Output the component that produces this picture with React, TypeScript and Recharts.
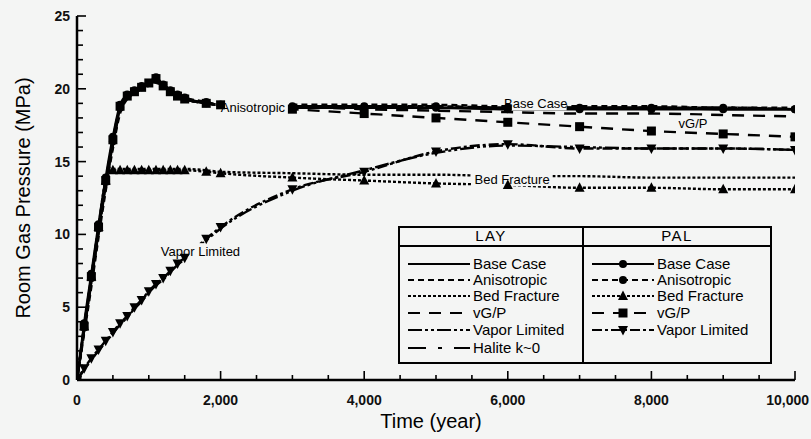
import { LineChart, Line, XAxis, YAxis, ReferenceDot, Legend } from "recharts"

const BG = "#f4f5f4"
const FONT = "'Liberation Sans', Arial, sans-serif"

// time grid (year)
const years = [0, 100, 200, 300, 400, 500, 600, 700, 800, 900, 1000, 1100, 1200, 1300, 1400, 1500, 1800, 2000, 3000, 4000, 5000, 6000, 7000, 8000, 9000, 10000]

// room gas pressure (MPa) — LAY
const layBase = [0, 3.5, 6.8, 10.2, 13.4, 16.2, 18.6, 19.5, 19.8, 20.1, 20.3, 20.6, 20.3, 19.9, 19.6, 19.4, 19.0, 18.9, 18.8, 18.8, 18.7, 18.7, 18.7, 18.7, 18.6, 18.6]
const layAniso = [0, 3.2, 6.4, 9.8, 13.0, 15.9, 18.3, 19.3, 19.7, 20.0, 20.2, 20.4, 20.2, 19.8, 19.5, 19.3, 19.0, 18.9, 18.9, 18.9, 18.9, 18.8, 18.8, 18.8, 18.7, 18.7]
const layBed = [0, 3.5, 6.8, 10.2, 13.4, 14.5, 14.5, 14.5, 14.5, 14.5, 14.5, 14.5, 14.5, 14.5, 14.5, 14.5, 14.4, 14.3, 14.2, 14.1, 14.1, 14.0, 14.0, 13.9, 13.9, 13.9]
const layVgp = [0, 3.4, 6.7, 10.1, 13.3, 16.1, 18.5, 19.4, 19.7, 20.0, 20.3, 20.5, 20.2, 19.8, 19.5, 19.3, 19.0, 18.9, 18.8, 18.6, 18.5, 18.4, 18.3, 18.3, 18.2, 18.1]
const layVapor = [0, 0.7, 1.4, 2.0, 2.6, 3.2, 3.8, 4.3, 4.9, 5.4, 6.0, 6.5, 6.9, 7.4, 7.9, 8.3, 9.6, 10.4, 13.0, 14.4, 15.6, 16.1, 16.0, 15.9, 15.9, 15.8]
const layHalite = [0, 3.5, 6.8, 10.2, 13.4, 16.2, 18.6, 19.5, 19.8, 20.1, 20.3, 20.6, 20.3, 19.9, 19.6, 19.4, 19.0, 18.9, 18.8, 18.8, 18.8, 18.7, 18.7, 18.7, 18.7, 18.6]

// room gas pressure (MPa) — PAL
const palBase = [0, 3.9, 7.3, 10.7, 13.9, 16.7, 18.9, 19.6, 19.9, 20.2, 20.4, 20.8, 20.2, 19.8, 19.5, 19.3, 19.0, 18.9, 18.7, 18.7, 18.7, 18.6, 18.6, 18.6, 18.6, 18.6]
const palAniso = [0, 3.6, 7.0, 10.4, 13.6, 16.4, 18.7, 19.5, 19.8, 20.1, 20.4, 20.6, 20.3, 19.9, 19.6, 19.4, 19.1, 18.9, 18.8, 18.8, 18.8, 18.7, 18.7, 18.7, 18.7, 18.6]
const palBed = [0, 3.7, 7.1, 10.5, 13.7, 14.4, 14.4, 14.4, 14.4, 14.4, 14.4, 14.4, 14.4, 14.4, 14.4, 14.4, 14.3, 14.2, 13.9, 13.7, 13.5, 13.4, 13.2, 13.2, 13.1, 13.1]
const palVgp = [0, 3.7, 7.1, 10.5, 13.7, 16.5, 18.8, 19.5, 19.8, 20.1, 20.4, 20.7, 20.2, 19.8, 19.5, 19.3, 19.0, 18.9, 18.6, 18.3, 18.0, 17.7, 17.4, 17.1, 16.9, 16.7]
const palVapor = [0, 0.8, 1.5, 2.1, 2.7, 3.3, 3.9, 4.4, 5.0, 5.5, 6.1, 6.6, 7.0, 7.5, 8.0, 8.4, 9.7, 10.5, 13.1, 14.3, 15.7, 16.2, 15.9, 15.9, 15.9, 15.8]

// axis ticks
const xTicks = [0, 500, 1000, 1500, 2000, 2500, 3000, 3500, 4000, 4500, 5000, 5500, 6000, 6500, 7000, 7500, 8000, 8500, 9000, 9500, 10000]
const xLabels = [0, 2000, 4000, 6000, 8000, 10000]
const yTicks = [0, 1, 2, 3, 4, 5, 6, 7, 8, 9, 10, 11, 12, 13, 14, 15, 16, 17, 18, 19, 20, 21, 22, 23, 24, 25]
const yLabels = [0, 5, 10, 15, 20, 25]

// in-plot curve labels
const tags = [
  { text: "Anisotropic", t: 2450, p: 18.75 },
  { text: "Base Case", t: 6390, p: 19.0 },
  { text: "vG/P", t: 8580, p: 17.6 },
  { text: "Bed Fracture", t: 6060, p: 13.8 },
  { text: "Vapor Limited", t: 1720, p: 8.85 },
]

const toPoints = (vals: number[]) => years.map((t, i) => ({ t, p: vals[i] }))

type Kind = "circle" | "tri" | "square" | "itri" | null

const laySeries = [
  { name: "Base Case", vals: layBase, dash: undefined, marker: null as Kind },
  { name: "Anisotropic", vals: layAniso, dash: "6 4", marker: null as Kind },
  { name: "Bed Fracture", vals: layBed, dash: "3 2", marker: null as Kind },
  { name: "vG/P", vals: layVgp, dash: "12 9", marker: null as Kind },
  { name: "Vapor Limited", vals: layVapor, dash: "14 3 3 3 3 3", marker: null as Kind },
  { name: "Halite k~0", vals: layHalite, dash: "18 12 4 12", marker: null as Kind },
]

const palSeries = [
  { name: "Base Case", vals: palBase, dash: undefined, marker: "circle" as Kind },
  { name: "Anisotropic", vals: palAniso, dash: "6 4", marker: "circle" as Kind },
  { name: "Bed Fracture", vals: palBed, dash: "3 2", marker: "tri" as Kind },
  { name: "vG/P", vals: palVgp, dash: "12 9", marker: "square" as Kind },
  { name: "Vapor Limited", vals: palVapor, dash: "10 3 3 3", marker: "itri" as Kind },
]

function Marker({ kind, cx, cy }: { kind: Kind; cx: number; cy: number }) {
  if (cx == null || cy == null || isNaN(cx) || isNaN(cy)) return null
  if (kind === "circle") return <circle cx={cx} cy={cy} r={4} fill="#000" />
  if (kind === "tri")
    return <polygon points={`${cx},${cy - 5.5} ${cx - 5},${cy + 4} ${cx + 5},${cy + 4}`} fill="#000" />
  if (kind === "square") return <rect x={cx - 4.5} y={cy - 4.5} width={9} height={9} fill="#000" />
  if (kind === "itri")
    return <polygon points={`${cx},${cy + 5.5} ${cx - 5},${cy - 4} ${cx + 5},${cy - 4}`} fill="#000" />
  return null
}

const fmt = (v: number) => v.toLocaleString("en-US")

function BottomTick(props: any) {
  const { x, y, payload } = props
  const major = xLabels.includes(payload.value)
  const last = payload.value === xLabels[xLabels.length - 1]
  return (
    <g>
      <line x1={x} x2={x} y1={y} y2={y - (major ? 9 : 5)} stroke="#000" strokeWidth={1.6} />
      {major && (
        <text
          x={last ? x + 14 : x}
          y={y + 25}
          textAnchor={last ? "end" : "middle"}
          fontFamily={FONT}
          fontWeight="bold"
          fontSize={14}
          fill="#111"
        >
          {fmt(payload.value)}
        </text>
      )}
    </g>
  )
}

function TopTick(props: any) {
  const { x, y, payload } = props
  const major = xLabels.includes(payload.value)
  return <line x1={x} x2={x} y1={y} y2={y + (major ? 9 : 6)} stroke="#000" strokeWidth={1.6} />
}

function LeftTick(props: any) {
  const { x, y, payload } = props
  const major = yLabels.includes(payload.value)
  return (
    <g>
      <line x1={x} x2={x + (major ? 9 : 6)} y1={y} y2={y} stroke="#000" strokeWidth={1.6} />
      {major && (
        <text x={x - 7} y={y + 5} textAnchor="end" fontFamily={FONT} fontWeight="bold" fontSize={14} fill="#111">
          {payload.value}
        </text>
      )}
    </g>
  )
}

function RightTick(props: any) {
  const { x, y, payload } = props
  const major = yLabels.includes(payload.value)
  return <line x1={x} x2={x - (major ? 9 : 6)} y1={y} y2={y} stroke="#000" strokeWidth={1.6} />
}

function Tag({ cx, cy, text }: { cx: number; cy: number; text: string }) {
  const w = text.length * 6.4 + 4
  return (
    <g>
      <rect x={cx - w / 2} y={cy - 8} width={w} height={15} fill={BG} />
      <text x={cx} y={cy + 4.5} textAnchor="middle" fontFamily={FONT} fontSize={13} fill="#000">
        {text}
      </text>
    </g>
  )
}

function Sample({ dash, marker }: { dash?: string; marker: Kind }) {
  return (
    <svg width={62} height={12} style={{ position: "absolute", left: 0, top: 2 }}>
      <line x1={0} x2={62} y1={6} y2={6} stroke="#000" strokeWidth={2} strokeDasharray={dash} />
      {marker && <Marker kind={marker} cx={31} cy={6} />}
    </svg>
  )
}

const rowTops = [28, 44, 60, 77, 94, 112]

function LegendBox() {
  const cols = [
    { title: "LAY", left: 0, width: 182, list: laySeries },
    { title: "PAL", left: 184, width: 186, list: palSeries },
  ]
  return (
    <div
      style={{
        position: "relative",
        width: 374,
        height: 138,
        border: "2px solid #000",
        boxSizing: "border-box",
        background: BG,
        fontFamily: FONT,
        color: "#000",
      }}
    >
      <div style={{ position: "absolute", left: 182, top: 0, bottom: 0, borderLeft: "2px solid #000" }} />
      <div style={{ position: "absolute", left: 0, right: 0, top: 17, borderTop: "2px solid #000" }} />
      {cols.map((c) => (
        <div key={c.title}>
          <div
            style={{
              position: "absolute",
              left: c.left,
              width: c.width,
              top: -1,
              textAlign: "center",
              fontSize: 15,
              letterSpacing: 1.5,
              lineHeight: "18px",
            }}
          >
            {c.title}
          </div>
          {c.list.map((s, i) => (
            <div key={s.name} style={{ position: "absolute", left: c.left + 8, top: rowTops[i], height: 16, width: 180 }}>
              <Sample dash={s.dash} marker={s.marker} />
              <span style={{ position: "absolute", left: 65, top: -1, fontSize: 15, lineHeight: "17px", whiteSpace: "nowrap" }}>
                {s.name}
              </span>
            </div>
          ))}
        </div>
      ))}
    </div>
  )
}

export default function App() {
  return (
    <div style={{ position: "absolute", left: 0, top: 0, width: 811, height: 439, background: BG }}>
      <LineChart width={811} height={439} margin={{ top: 16, right: 16, bottom: 0, left: 0 }}>
        <XAxis
          dataKey="t"
          type="number"
          domain={[0, 10000]}
          ticks={xTicks}
          interval={0}
          height={59}
          tickSize={0}
          tickMargin={0}
          tick={<BottomTick />}
          axisLine={{ stroke: "#000", strokeWidth: 2.5 }}
          allowDataOverflow
          label={{
            content: (p: any) => {
              const vb = p.viewBox
              return (
                <text x={vb.x + vb.width / 2 - 5} y={vb.y + 48} textAnchor="middle" fontFamily={FONT} fontSize={20} fill="#000">
                  Time (year)
                </text>
              )
            },
          }}
        />
        <XAxis
          xAxisId="top"
          orientation="top"
          type="number"
          domain={[0, 10000]}
          ticks={xTicks}
          interval={0}
          height={0}
          tickSize={0}
          tickMargin={0}
          tick={<TopTick />}
          axisLine={{ stroke: "#000", strokeWidth: 2.5 }}
          allowDataOverflow
        />
        <YAxis
          type="number"
          domain={[0, 25]}
          ticks={yTicks}
          interval={0}
          width={77}
          tickSize={0}
          tickMargin={0}
          tick={<LeftTick />}
          axisLine={{ stroke: "#000", strokeWidth: 2.5 }}
          allowDataOverflow
          label={{
            content: (p: any) => {
              const vb = p.viewBox
              const cx = 23
              const cy = vb.y + vb.height / 2
              return (
                <text
                  x={cx}
                  y={cy}
                  transform={`rotate(-90 ${cx} ${cy})`}
                  textAnchor="middle"
                  dominantBaseline="central"
                  fontFamily={FONT}
                  fontSize={20}
                  fill="#000"
                >
                  Room Gas Pressure (MPa)
                </text>
              )
            },
          }}
        />
        <YAxis
          yAxisId="right"
          orientation="right"
          type="number"
          domain={[0, 25]}
          ticks={yTicks}
          interval={0}
          width={0}
          tickSize={0}
          tickMargin={0}
          tick={<RightTick />}
          axisLine={{ stroke: "#000", strokeWidth: 2.5 }}
          allowDataOverflow
        />
        {laySeries.map((s) => (
          <Line
            key={"lay-" + s.name}
            data={toPoints(s.vals)}
            dataKey="p"
            type="monotone"
            stroke="#000"
            strokeWidth={2.4}
            strokeDasharray={s.dash}
            dot={false}
            activeDot={false}
            isAnimationActive={false}
          />
        ))}
        {palSeries.map((s) => (
          <Line
            key={"pal-" + s.name}
            data={toPoints(s.vals)}
            dataKey="p"
            type="monotone"
            stroke="#000"
            strokeWidth={2.4}
            strokeDasharray={s.dash}
            dot={(d: any) => <Marker key={`pal-${s.name}-${d.index}`} kind={s.marker} cx={d.cx} cy={d.cy} />}
            activeDot={false}
            isAnimationActive={false}
          />
        ))}
        {tags.map((g) => (
          <ReferenceDot
            key={g.text}
            x={g.t}
            y={g.p}
            r={1}
            shape={(p: any) => <Tag cx={p.cx} cy={p.cy} text={g.text} />}
          />
        ))}
        <Legend
          layout="horizontal"
          verticalAlign="middle"
          align="center"
          content={() => <LegendBox />}
          wrapperStyle={{ left: 398, top: 226, width: 374, height: 138 }}
        />
      </LineChart>
    </div>
  )
}
